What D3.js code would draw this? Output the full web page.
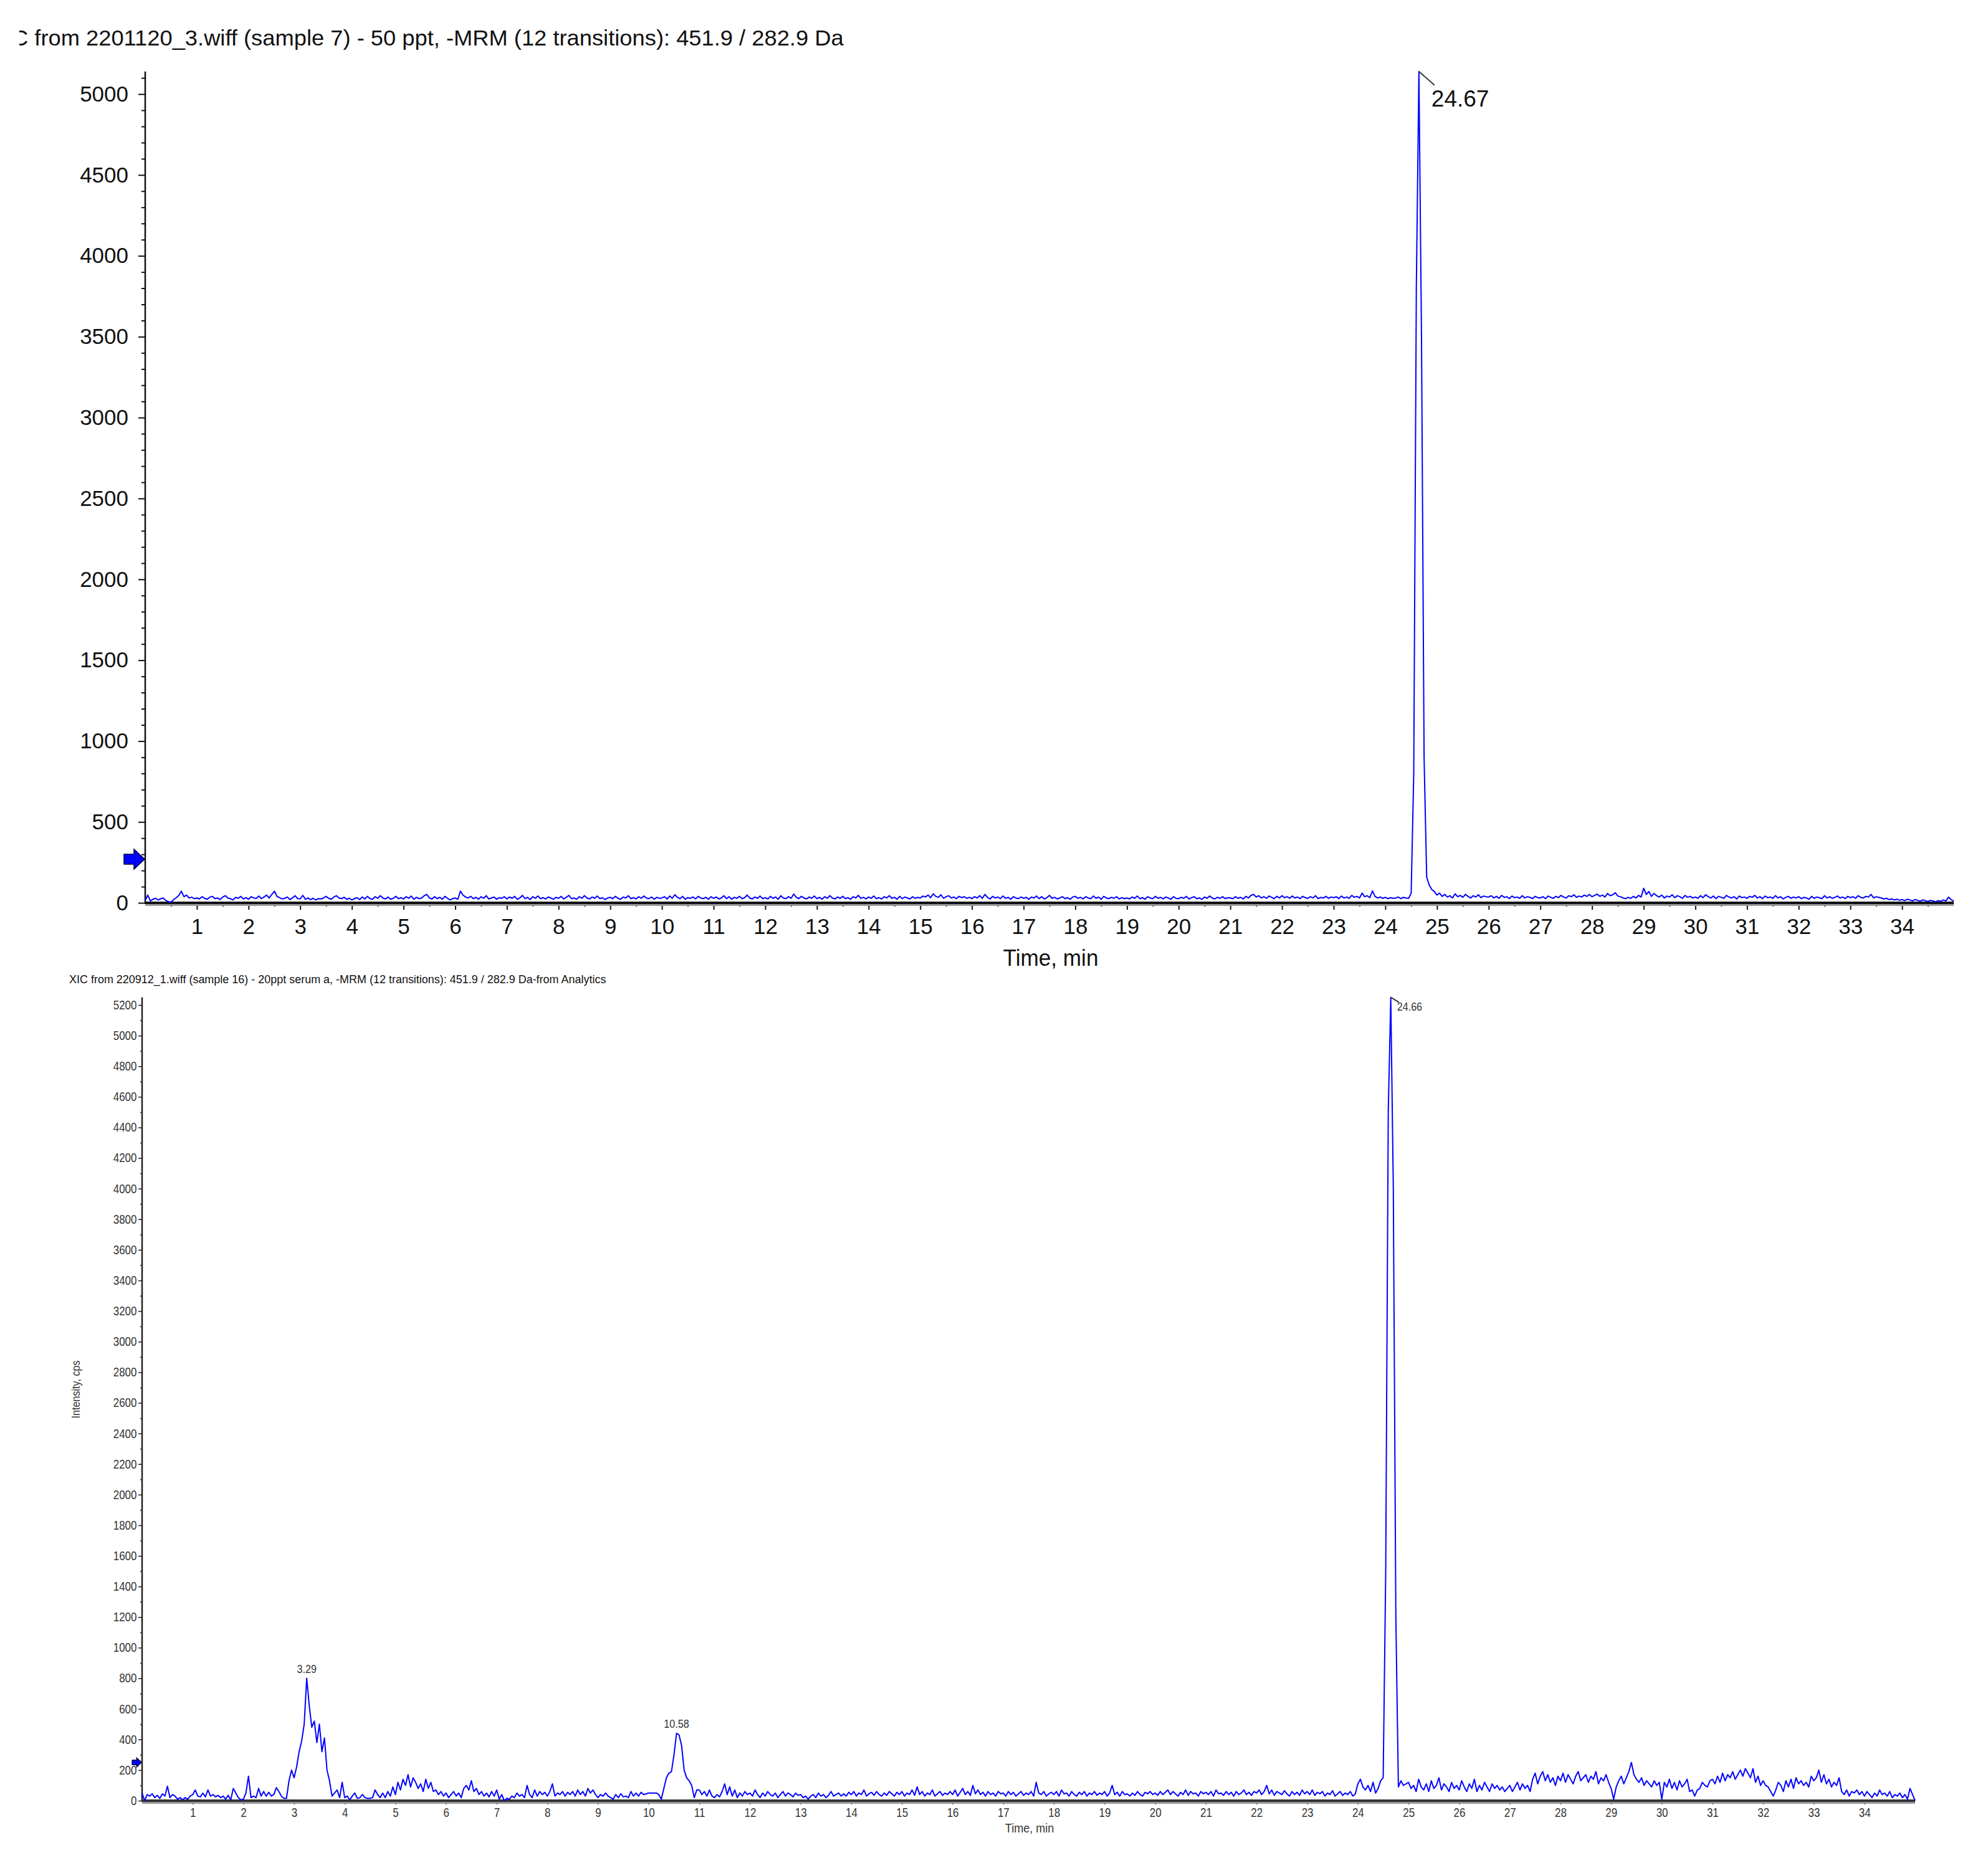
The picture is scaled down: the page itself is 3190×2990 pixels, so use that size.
<!DOCTYPE html>
<html><head><meta charset="utf-8">
<script src="https://cdn.jsdelivr.net/npm/d3@7"></script>
<style>body{margin:0;background:#fff}svg{display:block}</style>
</head><body>
<svg id="chart" width="3190" height="2990"></svg>
<script>
// ---------------- DATA ----------------
const TIME_START = 0;      // min
const TIME_STEP = 0.05;    // min between samples
const TOP_TITLE = "XIC from 2201120_3.wiff (sample 7) - 50 ppt, -MRM (12 transitions): 451.9 / 282.9 Da";
const BOT_TITLE = "XIC from 220912_1.wiff (sample 16) - 20ppt serum a, -MRM (12 transitions): 451.9 / 282.9 Da-from Analytics";
const X_LABEL = "Time, min";
const BOT_Y_LABEL = "Intensity, cps";
const X_TICKS = [1,2,3,4,5,6,7,8,9,10,11,12,13,14,15,16,17,18,19,20,21,22,23,24,25,26,27,28,29,30,31,32,33,34];
const TOP_Y_TICKS = [0,500,1000,1500,2000,2500,3000,3500,4000,4500,5000];
const BOT_Y_TICKS = [0,200,400,600,800,1000,1200,1400,1600,1800,2000,2200,2400,2600,2800,3000,3200,3400,3600,3800,4000,4200,4400,4600,4800,5000,5200];
const TOP_PEAKS = [{time:24.67, label:"24.67"}];
const BOT_PEAKS = [{time:3.29, label:"3.29"},{time:10.58, label:"10.58"},{time:24.66, label:"24.66"}];
const TOP_THRESHOLD = 270;
const BOT_THRESHOLD = 250;

// intensities, one row per minute (20 samples / min)
const TOP_VALUES = [
15,48,12,22,28,18,25,30,14,8,4,20,32,45,72,38,48,30,35,26,
30,24,38,28,22,35,40,26,30,20,36,44,30,25,18,34,28,40,24,32,
22,38,30,28,42,26,36,48,30,52,72,40,32,24,28,36,20,30,44,26,
25,46,22,30,20,28,18,26,24,30,40,28,22,36,44,30,26,34,22,28,
18,26,32,20,36,24,40,26,22,38,28,44,30,24,36,22,28,40,26,32,
24,38,28,42,22,34,26,30,44,52,30,24,38,26,34,22,40,28,18,26,
30,22,72,48,36,30,40,26,34,22,38,28,44,24,30,36,22,32,28,38,
24,36,28,40,22,30,46,26,34,20,38,28,42,26,32,24,36,30,22,34,
28,40,24,34,46,26,30,22,38,28,44,30,24,36,28,42,26,32,20,30,
34,26,40,28,22,36,30,44,26,32,24,38,28,42,30,26,36,22,34,28,
30,38,24,42,28,50,34,26,40,22,32,28,36,24,40,30,26,34,22,38,
28,36,24,30,44,26,38,22,34,28,40,26,32,48,30,24,36,28,42,26,
32,24,40,28,36,22,44,30,26,38,28,54,34,26,40,30,24,36,28,42,
26,34,22,38,28,44,30,24,36,28,40,26,32,22,38,30,46,28,34,24,
36,28,42,26,32,24,38,30,44,28,34,22,40,26,36,30,24,38,28,34,
30,42,36,48,32,56,40,34,50,28,38,44,30,36,26,40,32,38,28,34,
26,38,30,44,28,52,34,24,40,30,36,26,42,28,34,22,38,30,26,36,
28,34,22,36,30,42,26,38,24,32,46,28,34,24,30,38,26,32,22,36,
40,28,34,24,38,30,26,42,28,36,22,40,30,26,34,28,38,24,32,26,
30,24,36,28,42,26,32,22,38,30,26,40,28,34,24,36,30,22,38,28,
26,34,28,40,24,32,38,26,30,22,36,28,42,30,24,34,28,38,26,32,
30,26,38,28,34,24,40,30,46,52,36,44,30,38,28,42,34,26,40,30,
44,32,38,28,42,30,36,26,40,32,28,38,30,44,26,34,30,40,28,36,
32,38,26,42,30,36,28,46,34,40,30,60,38,44,32,74,40,30,36,28,
34,26,32,28,30,36,26,34,30,28,60,800,3800,5140,3500,900,160,110,82,70,
48,60,40,52,36,44,30,56,38,46,34,52,40,30,44,36,50,32,42,38,
36,44,30,40,28,46,34,38,26,42,32,36,28,44,30,38,34,26,40,32,
30,38,26,42,34,28,40,32,46,36,30,44,38,50,34,42,36,48,40,52,
38,46,54,40,48,36,58,44,50,62,42,38,30,26,34,28,40,30,46,36,
90,52,70,40,58,44,36,48,30,42,36,50,32,44,38,28,46,34,40,30,
36,28,44,32,50,38,30,42,26,40,34,28,46,36,30,38,24,42,32,36,
28,40,34,46,30,38,26,42,32,36,28,44,30,38,24,34,40,28,36,30,
38,26,34,30,22,40,28,36,32,26,44,30,38,28,34,42,30,36,26,40,
32,38,28,44,34,30,40,36,52,30,38,34,30,24,28,20,24,18,22,16,
20,14,22,18,12,20,16,10,18,14,8,16,12,6,14,10,18,12,35,20,
10];

const BOT_VALUES = [
50,0,40,30,45,20,35,15,45,30,95,20,40,30,10,20,5,20,10,30,
40,70,30,25,50,25,70,30,40,25,35,20,30,10,35,5,80,50,20,5,
10,50,160,20,30,20,80,30,60,30,55,30,40,85,60,30,15,15,130,200,
150,220,320,390,500,800,620,480,520,380,500,320,410,200,130,30,50,70,20,120,
20,30,5,30,50,15,20,40,20,15,15,20,70,40,20,50,20,60,30,90,
40,120,70,140,100,170,90,150,120,80,110,60,140,80,120,60,70,40,60,30,
50,20,40,60,30,50,20,80,100,70,130,60,80,40,60,30,50,25,60,30,
70,10,40,0,15,10,30,20,50,30,40,20,100,40,20,70,30,60,40,55,
30,60,110,30,50,40,60,30,55,40,60,30,70,40,60,30,80,50,70,40,
20,40,30,50,30,20,10,40,20,45,25,30,20,60,30,50,30,55,40,45,
50,50,50,50,40,10,80,150,180,190,300,440,430,360,200,150,130,100,20,70,
70,40,60,30,70,30,20,40,25,60,110,40,90,30,70,20,50,30,60,40,
50,30,70,40,20,50,30,60,40,30,50,20,40,60,30,50,40,25,50,35,
40,20,30,10,30,40,20,50,30,40,20,35,60,30,40,50,30,45,30,55,
40,60,30,50,40,70,30,45,55,35,60,40,30,50,35,60,45,30,55,40,
60,30,50,40,70,35,90,40,60,30,50,40,70,30,45,60,35,50,40,60,
40,70,30,55,80,40,60,35,100,45,70,40,55,30,60,40,50,30,60,45,
50,30,60,40,55,30,45,60,35,50,40,60,30,120,50,40,60,30,45,55,
40,60,30,70,45,50,30,60,40,30,55,40,60,30,50,40,60,35,50,40,
60,30,50,100,40,55,30,60,40,45,30,50,35,60,40,30,55,45,60,40,
50,35,60,40,55,70,40,60,45,30,55,40,70,35,60,45,50,30,60,45,
55,40,60,30,70,45,50,35,60,40,55,30,60,40,50,70,40,55,35,60,
50,70,40,60,100,45,70,35,60,50,40,65,45,30,60,40,55,35,70,45,
60,40,70,35,55,45,60,30,50,40,65,30,45,60,35,50,40,60,30,45,
110,140,90,70,100,60,120,50,80,130,150,1500,4500,5250,4000,1200,90,130,100,110,
120,80,100,60,140,90,70,110,60,130,80,100,150,70,110,90,60,120,80,100,
70,130,90,60,110,80,140,60,100,70,120,90,60,110,80,100,70,90,60,80,
100,60,90,120,70,110,80,100,60,140,180,110,160,190,130,170,120,150,100,160,
130,180,120,170,140,110,160,190,130,150,170,120,160,140,190,110,150,130,170,120,
80,10,90,130,160,110,150,190,250,170,140,120,150,100,130,110,90,130,100,120,
10,120,90,140,80,120,70,130,90,110,140,60,70,30,70,80,120,100,90,130,
140,110,160,120,180,130,170,150,190,140,170,200,160,210,180,150,210,120,160,100,
130,100,90,60,30,70,120,100,60,130,90,140,80,150,110,130,100,120,90,160,
130,150,200,120,170,110,140,90,120,100,150,60,40,70,30,60,50,70,40,60,
30,60,40,20,50,30,70,40,50,30,60,20,40,30,50,20,40,10,80,40,
0];

// ---------------- DRAW ----------------
const svg = d3.select("#chart");
const toSeries = vals => vals.map((v,i)=>({t: TIME_START + i*TIME_STEP, v}));

function drawPanel(cfg){
  const g = svg.append("g");
  const x = d3.scaleLinear().domain([0,35]).range([cfg.x0, cfg.x1]);
  const y = d3.scaleLinear().domain([0, cfg.yRef]).range([cfg.y0, cfg.yRefPx]);
  const data = toSeries(cfg.values);

  // title
  const clipId = "clip" + cfg.id;
  svg.append("clipPath").attr("id", clipId).append("rect")
     .attr("x", cfg.titleClip).attr("y", 0).attr("width", 3190).attr("height", 3000);
  const tg = g.append("g").attr("clip-path", `url(#${clipId})`);
  const title = tg.append("text").text(cfg.title)
     .attr("font-family", "Liberation Sans, Arial, sans-serif")
     .attr("font-size", cfg.titleSize).attr("fill", "#111")
     .attr("y", cfg.titleY);
  const node = title.node();
  const full = node.getComputedTextLength();
  const pre = cfg.titleSkip > 0 ? node.getSubStringLength(0, cfg.titleSkip) : 0;
  const sx = cfg.titleWidth / (full - pre);
  title.attr("transform", `translate(${cfg.titleX - pre*sx},0) scale(${sx},1)`);

  // y axis ticks
  const yAxis = d3.axisLeft(y).tickValues(cfg.yTicks).tickSize(cfg.yTickLen)
     .tickPadding(cfg.yPad).tickSizeOuter(0).tickFormat(d3.format("d"));
  const ya = g.append("g").attr("transform", `translate(${cfg.x0},0)`).call(yAxis);
  const minorY = d3.range(0, cfg.yMax, cfg.yMinorStep).filter(v => !cfg.yTicks.includes(v));
  const yam = g.append("g").attr("transform", `translate(${cfg.x0},0)`)
     .call(d3.axisLeft(y).tickValues(minorY).tickSize(cfg.yMinorLen).tickFormat(""));
  [ya, yam].forEach(a => { a.select(".domain").remove();
    a.selectAll("line").attr("stroke", cfg.axisColor).attr("stroke-width", cfg.tickWidth); });
  ya.selectAll("text").attr("font-family", "Liberation Sans, Arial, sans-serif")
    .attr("font-size", cfg.tickFont).attr("fill", cfg.textColor)
    .attr("transform", `scale(${cfg.tickScale},1)`);
  // y axis line
  g.append("line").attr("x1", cfg.x0).attr("x2", cfg.x0)
   .attr("y1", y(0)).attr("y2", y(cfg.yMax))
   .attr("stroke", cfg.axisColor).attr("stroke-width", cfg.yAxisWidth);

  // x axis
  const xAxis = d3.axisBottom(x).tickValues(X_TICKS).tickSize(cfg.xTickLen)
     .tickPadding(cfg.xPad).tickSizeOuter(0).tickFormat(d3.format("d"));
  const xa = g.append("g").attr("transform", `translate(0,${cfg.y0})`).call(xAxis);
  const minorX = d3.range(0.5, 35, 1);
  const xam = g.append("g").attr("transform", `translate(0,${cfg.y0})`)
     .call(d3.axisBottom(x).tickValues(minorX).tickSize(cfg.xMinorLen).tickFormat(""));
  [xa, xam].forEach(a => { a.select(".domain").remove();
    a.selectAll("line").attr("stroke", cfg.axisColor).attr("stroke-width", cfg.tickWidth); });
  xa.selectAll("text").attr("font-family", "Liberation Sans, Arial, sans-serif")
    .attr("font-size", cfg.tickFont).attr("fill", cfg.textColor)
    .attr("transform", `scale(${cfg.tickScale},1)`);
  g.append("line").attr("x1", cfg.x0).attr("x2", cfg.x1)
   .attr("y1", cfg.y0 + cfg.xAxisWidth/2 + 1).attr("y2", cfg.y0 + cfg.xAxisWidth/2 + 1)
   .attr("stroke", "#9a9a9a").attr("stroke-width", cfg.xAxisWidth);
  g.append("line").attr("x1", cfg.x0 - 1).attr("x2", cfg.x1)
   .attr("y1", cfg.y0).attr("y2", cfg.y0)
   .attr("stroke", cfg.xAxisColor).attr("stroke-width", cfg.xAxisWidth);

  // x label
  g.append("text").text(X_LABEL).attr("text-anchor", "middle")
   .attr("font-family", "Liberation Sans, Arial, sans-serif")
   .attr("font-size", cfg.xLabelFont).attr("fill", cfg.textColor)
   .attr("transform", `translate(${cfg.xLabelX},${cfg.xLabelY}) scale(${cfg.xLabelScale},1)`);

  // y label
  if (cfg.yLabel) {
    g.append("text").text(cfg.yLabel).attr("text-anchor", "middle")
     .attr("font-family", "Liberation Sans, Arial, sans-serif")
     .attr("font-size", cfg.yLabelFont).attr("fill", cfg.textColor)
     .attr("transform", `translate(${cfg.yLabelX},${cfg.yLabelY}) rotate(-90) scale(0.85,1)`);
  }

  // trace
  g.append("path").datum(data)
   .attr("d", d3.line().x(d => x(d.t)).y(d => y(d.v)))
   .attr("fill", "none").attr("stroke", "#0000ff")
   .attr("stroke-width", cfg.lineWidth).attr("stroke-linejoin", "round");

  // threshold arrow
  const s = cfg.arrowScale;
  g.append("path")
   .attr("d", "M0,0 L-17,-16 L-17,-8 L-33,-8 L-33,8 L-17,8 L-17,16 Z")
   .attr("transform", `translate(${cfg.x0 - 1},${y(cfg.threshold)}) scale(${s})`)
   .attr("fill", "#0000ff").attr("stroke", "#000040").attr("stroke-width", 1.5 / s);

  // peak labels
  cfg.peaks.forEach(p => {
    const win = data.filter(d => Math.abs(d.t - p.time) <= 0.12);
    const apex = win.reduce((a, b) => b.v > a.v ? b : a);
    const ax = x(apex.t), ay = y(apex.v);
    if (p.label === cfg.flagLabel) {
      g.append("line").attr("x1", ax).attr("y1", ay)
       .attr("x2", ax + cfg.flag.dx).attr("y2", ay + cfg.flag.dy)
       .attr("stroke", "#333").attr("stroke-width", cfg.flag.w);
      g.append("text").text(p.label)
       .attr("font-family", "Liberation Sans, Arial, sans-serif")
       .attr("font-size", cfg.peakFont).attr("fill", cfg.textColor)
       .attr("transform", `translate(${ax + cfg.flag.tx},${ay + cfg.flag.ty}) scale(${cfg.tickScale},1)`);
    } else {
      g.append("text").text(p.label).attr("text-anchor", "middle")
       .attr("font-family", "Liberation Sans, Arial, sans-serif")
       .attr("font-size", cfg.peakFont).attr("fill", cfg.textColor)
       .attr("transform", `translate(${ax},${ay - 9}) scale(${cfg.tickScale},1)`);
    }
  });
}

drawPanel({
  id: "top", values: TOP_VALUES, yTicks: TOP_Y_TICKS, peaks: TOP_PEAKS, threshold: TOP_THRESHOLD,
  title: TOP_TITLE, titleSkip: 2, titleX: 19, titleClip: 31, titleY: 73, titleSize: 35, titleWidth: 1335,
  x0: 233, x1: 3135, y0: 1449, yRef: 5000, yRefPx: 151, yMax: 5140,
  yMinorStep: 100, yTickLen: 11, yMinorLen: 6, yPad: 16, xTickLen: 11, xMinorLen: 6, xPad: 14,
  tickFont: 35, tickScale: 1, tickWidth: 2, axisColor: "#111", textColor: "#111",
  yAxisWidth: 2.5, xAxisWidth: 4, xAxisColor: "#111",
  xLabelX: 1686, xLabelY: 1550, xLabelFont: 37, xLabelScale: 0.95,
  lineWidth: 2, arrowScale: 1, peakFont: 37,
  flagLabel: "24.67", flag: {dx: 25, dy: 22, w: 2, tx: 20, ty: 56}
});

drawPanel({
  id: "bot", values: BOT_VALUES, yTicks: BOT_Y_TICKS, peaks: BOT_PEAKS, threshold: BOT_THRESHOLD,
  title: BOT_TITLE, titleSkip: 0, titleX: 111, titleClip: 0, titleY: 1578, titleSize: 19, titleWidth: 862,
  x0: 228, x1: 3073, y0: 2890, yRef: 5200, yRefPx: 1613, yMax: 5250,
  yMinorStep: 100, yTickLen: 6, yMinorLen: 3, yPad: 4, xTickLen: 6, xMinorLen: 3, xPad: 6,
  tickFont: 20, tickScale: 0.85, tickWidth: 1.5, axisColor: "#222", textColor: "#333",
  yAxisWidth: 2.5, xAxisWidth: 4, xAxisColor: "#333",
  xLabelX: 1652, xLabelY: 2941, xLabelFont: 20, xLabelScale: 0.9,
  yLabel: BOT_Y_LABEL, yLabelX: 128, yLabelY: 2230, yLabelFont: 19,
  lineWidth: 2, arrowScale: 0.45, peakFont: 19,
  flagLabel: "24.66", flag: {dx: 13, dy: 8, w: 2, tx: 10, ty: 21}
});
</script>
</body></html>
